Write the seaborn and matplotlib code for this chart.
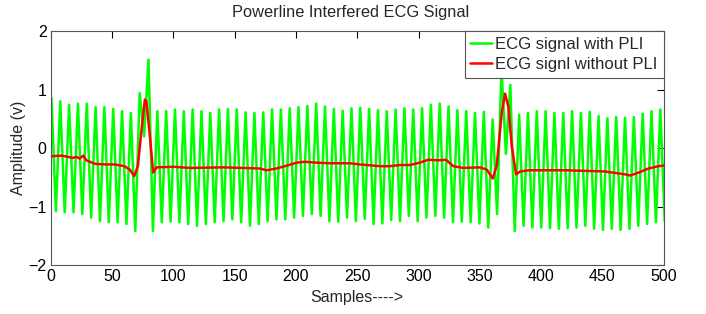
import numpy as np
import pandas as pd
import seaborn as sns
import matplotlib
matplotlib.use("Agg")
import matplotlib.pyplot as plt

# 绿线：叠加了工频干扰的ECG，读取每个波峰/波谷的值（间隔半个周期）
pli_peaks = [0.86, 0.80, 0.74, 0.76, 0.76, 0.70, 0.70, 0.67, 0.63, 0.60,
             0.94, 1.51, 0.63, 0.63, 0.66, 0.63, 0.66, 0.63, 0.60, 0.66,
             0.67, 0.66, 0.61, 0.60, 0.61, 0.66, 0.66, 0.68, 0.70, 0.72,
             0.76, 0.71, 0.67, 0.64, 0.68, 0.69, 0.67, 0.65, 0.63, 0.66,
             0.68, 0.66, 0.68, 0.74, 0.76, 0.71, 0.65, 0.63, 0.60, 0.62,
             0.49, 1.35, 1.08, 0.57, 0.60, 0.63, 0.63, 0.60, 0.60, 0.63,
             0.60, 0.62, 0.55, 0.51, 0.53, 0.52, 0.53, 0.59, 0.63, 0.66]
pli_troughs = [-1.08, -1.10, -1.10, -1.13, -1.19, -1.25, -1.27, -1.27, -1.30, -1.42,
               0.20, -1.42, -1.27, -1.26, -1.27, -1.30, -1.33, -1.30, -1.27, -1.25,
               -1.22, -1.27, -1.33, -1.30, -1.25, -1.22, -1.22, -1.19, -1.16, -1.13,
               -1.16, -1.25, -1.26, -1.19, -1.25, -1.21, -1.30, -1.29, -1.23, -1.25,
               -1.16, -1.25, -1.19, -1.16, -1.19, -1.27, -1.26, -1.27, -1.29, -1.36,
               -1.13, -0.10, -1.42, -1.33, -1.36, -1.36, -1.37, -1.38, -1.37, -1.36,
               -1.33, -1.38, -1.40, -1.38, -1.40, -1.38, -1.33, -1.30, -1.27, -1.25]
first_peak = 0.5      # 第一个波峰所在的采样点
half_period = 3.6     # 50Hz干扰，360Hz采样 -> 半周期3.6个采样点

# 红线：去掉干扰后的ECG（关键点）
ecg_x = [0, 8.7, 14, 18, 21, 23.4, 26.4, 29, 36, 44, 52, 60, 64.5, 68, 71, 74,
         76.7, 78, 80.8, 83.5, 86.3, 100, 113.5, 140.7, 157, 170.6, 176, 184,
         191, 200.6, 207, 217, 228, 244, 252, 268.6, 277, 285, 293, 301, 308,
         316, 322.4, 328.4, 336.6, 350, 355.7, 360.6, 363.8, 367.9, 370.6,
         373.3, 376.1, 379.6, 383, 390, 420, 436, 452, 468.6, 472.7, 479.5,
         487.6, 495.8, 500]
ecg_y = [-0.14, -0.13, -0.15, -0.17, -0.15, -0.18, -0.13, -0.21, -0.27, -0.28,
         -0.28, -0.31, -0.37, -0.48, -0.31, 0.31, 0.83, 0.80, 0.20, -0.42, -0.33,
         -0.32, -0.34, -0.33, -0.34, -0.35, -0.38, -0.35, -0.31, -0.25, -0.235,
         -0.25, -0.26, -0.26, -0.28, -0.31, -0.31, -0.29, -0.29, -0.25, -0.20,
         -0.21, -0.20, -0.31, -0.34, -0.33, -0.37, -0.52, -0.30, 0.60, 0.93,
         0.71, 0.03, -0.45, -0.40, -0.38, -0.38, -0.39, -0.40, -0.45, -0.47,
         -0.42, -0.35, -0.31, -0.30]

# 波峰波谷交替排列
green_y = np.empty(len(pli_peaks) + len(pli_troughs))
green_y[0::2] = pli_peaks
green_y[1::2] = pli_troughs
green_x = first_peak + half_period * np.arange(len(green_y))

noisy = pd.DataFrame({"sample": green_x, "amp": green_y})
clean = pd.DataFrame({"sample": ecg_x, "amp": ecg_y})

sns.set_style("white")
plt.rcParams['font.family'] = ['Liberation Sans', 'DejaVu Sans']

fig = plt.figure(figsize=(7.06, 3.14), dpi=100)
ax = fig.add_axes([0.072, 0.156, 0.868, 0.745])

sns.lineplot(data=noisy, x="sample", y="amp", color="#00ff00", linewidth=1.8,
             estimator=None, label="ECG signal with PLI", ax=ax)
sns.lineplot(data=clean, x="sample", y="amp", color="#ff0000", linewidth=1.8,
             estimator=None, label="ECG signl without PLI", ax=ax)

ax.set_xlim(0, 500)
ax.set_ylim(-2, 2)
ax.set_xticks(range(0, 501, 50))
ax.set_yticks([-2, -1, 0, 1, 2])
ax.tick_params(direction="in", length=5, width=0.8, top=True, right=True,
               labelsize=11.5, colors="black", pad=3)
for s in ax.spines.values():
    s.set_color("#555555")
    s.set_linewidth(0.8)

ax.set_title("Powerline Interfered ECG Signal", fontsize=11.8, pad=10, x=0.49)
ax.set_xlabel("Samples---->", fontsize=11.5, labelpad=4)
ax.set_ylabel("Amplitude (v)", fontsize=11.5, labelpad=2)

leg = ax.legend(loc="upper right", borderaxespad=0, fontsize=12, fancybox=False,
                framealpha=1, edgecolor="#555555", handlelength=1.3,
                handletextpad=0.2, borderpad=0.35, labelspacing=0.3)
leg.get_frame().set_linewidth(0.8)
leg.set_zorder(10)

fig.savefig("out.png", dpi=100)
